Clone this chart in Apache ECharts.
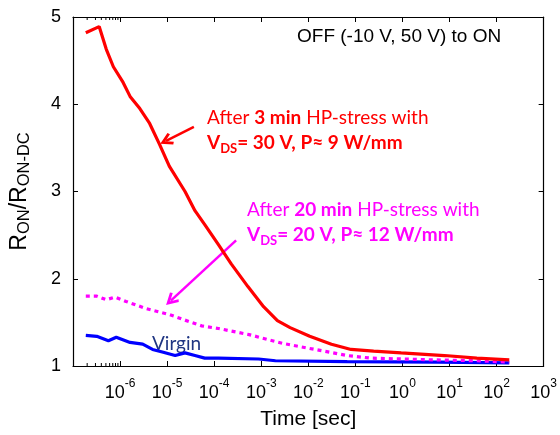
<!DOCTYPE html>
<html><head><meta charset="utf-8">
<script src="https://cdn.jsdelivr.net/npm/echarts@6/dist/echarts.min.js"></script>
<style>html,body{margin:0;padding:0;background:#fff}#c{width:560px;height:435px}</style>
</head><body><div id="c"></div>
<script>
// ---- data ----
const redTime = [1.87e-7,3.6e-7,5.1e-7,7.2e-7,1.16e-6,1.63e-6,2.63e-6,4.25e-6,6.9e-6,1.11e-5,2.4e-5,3.9e-5,6.3e-5,1.23e-4,2.3e-4,5.2e-4,1.12e-3,2.2e-3,4.1e-3,0.0107,0.031,0.081,0.244,0.94,7.8,38,186];
const redVal  = [4.82,4.89,4.63,4.43,4.25,4.09,3.95,3.78,3.54,3.29,3.0,2.78,2.62,2.39,2.17,1.91,1.68,1.52,1.44,1.34,1.25,1.19,1.17,1.15,1.12,1.09,1.07];
const magTime = [1.87e-7,3.2e-7,5.1e-7,7.9e-7,1.34e-6,3.5e-6,1.11e-5,2.9e-5,5.4e-5,1.23e-4,5.5e-4,2.8e-3,0.0137,0.067,0.21,4.8,38,186];
const magVal  = [1.80,1.80,1.76,1.79,1.74,1.66,1.59,1.51,1.46,1.43,1.36,1.26,1.19,1.12,1.09,1.07,1.06,1.045];
const bluTime = [1.87e-7,3.2e-7,5.65e-7,8.3e-7,1.63e-6,3.03e-6,4.9e-6,7.9e-6,1.48e-5,2.4e-5,3.9e-5,6.3e-5,1.23e-4,8.8e-4,2.0e-3,0.067,5.6,186];
const bluVal  = [1.35,1.34,1.29,1.33,1.27,1.25,1.19,1.16,1.12,1.15,1.12,1.09,1.09,1.08,1.06,1.05,1.045,1.035];
const minorTicks = [2e-7,3e-7,4e-7,5e-7,6e-7,7e-7,8e-7,9e-7];
const redArrow = [[3.7e-5,3.74],[9.5e-6,3.58]];
const magArrow = [[2.92e-4,2.44],[1.2e-5,1.75]];
const xMin = 1e-7, xMax = 1e3, yMin = 1, yMax = 5;

const zip = (a,b) => a.map((v,i)=>[v,b[i]]);
const chev = 'path://M5,0 L10,8 L8.3,9.2 L5,4 L1.7,9.2 L0,8 Z';
const supLabel = v => { const e = Math.round(Math.log10(v)); return '{b|10}{s|' + e + '}'; };
const AR = 'Liberation Sans, Arial';

const chart = echarts.init(document.getElementById('c'));
const axisLineStyle = {color:'#000', width:1.2};
chart.setOption({
  animation:false,
  grid:{left:68,right:12,top:17,bottom:65,containLabel:false},
  xAxis:[{
    type:'log', logBase:10, min:xMin, max:xMax, interval:1,
    name:'Time [sec]', nameLocation:'middle', nameGap:43,
    nameTextStyle:{fontFamily:AR, fontSize:21, color:'#000'},
    axisLine:{lineStyle:axisLineStyle}, axisTick:{inside:true,length:5,lineStyle:{color:'#000'}},
    splitLine:{show:false}, minorTick:{show:false},
    axisLabel:{showMinLabel:false, margin:12, formatter:supLabel,
      rich:{b:{fontFamily:AR,fontSize:18,color:'#000',padding:[6,0,0,0]},
            s:{fontFamily:AR,fontSize:12,color:'#000',verticalAlign:'top',padding:[0,0,8,0]}}}
  },{
    type:'log', logBase:10, min:xMin, max:xMax, interval:1, position:'top',
    axisLine:{lineStyle:axisLineStyle}, axisTick:{inside:true,length:5,lineStyle:{color:'#000'}},
    axisLabel:{show:false}, splitLine:{show:false}
  }],
  yAxis:[{
    type:'value', min:yMin, max:yMax, interval:1,
    name:'{r|R}{sub|ON}{r|/R}{sub|ON-DC}', nameLocation:'middle', nameGap:40, nameRotate:90,
    nameTextStyle:{rich:{r:{fontFamily:AR,fontSize:23,color:'#000'},
                          sub:{fontFamily:AR,fontSize:16.5,color:'#000',verticalAlign:'bottom',padding:[10,0,0,0]}}},
    axisLine:{show:true,lineStyle:axisLineStyle}, axisTick:{inside:true,length:5,lineStyle:{color:'#000'}},
    splitLine:{show:false},
    axisLabel:{fontFamily:AR,fontSize:18,color:'#000',margin:12}
  },{
    type:'value', min:yMin, max:yMax, interval:1, position:'right',
    axisLine:{show:true,lineStyle:axisLineStyle}, axisTick:{inside:true,length:5,lineStyle:{color:'#000'}},
    axisLabel:{show:false}, splitLine:{show:false}
  }],
  series:[
    {type:'line', data:zip(bluTime,bluVal), showSymbol:false, lineStyle:{color:'#0000ff',width:3.2}, z:3},
    {type:'line', data:zip(magTime,magVal), showSymbol:false, lineStyle:{color:'#ff00ff',width:3.2,type:[4,4]}, z:4,
     markLine:{silent:true, symbol:['none',chev], symbolSize:[13,13], label:{show:false},
       lineStyle:{color:'#ff00ff',width:2.5,type:'solid'},
       data:[[{coord:magArrow[0]},{coord:magArrow[1]}]]}},
    {type:'line', data:zip(redTime,redVal), showSymbol:false, lineStyle:{color:'#ff0000',width:3.2}, z:5,
     markLine:{silent:true, symbol:['none',chev], symbolSize:[13,13], label:{show:false},
       lineStyle:{color:'#ff0000',width:2.5,type:'solid'},
       data:[[{coord:redArrow[0]},{coord:redArrow[1]}]]}},
    {type:'custom', silent:true, data:minorTicks.map(t=>[t]), z:6,
     renderItem:(params, api) => {
       const p0 = api.coord([api.value(0), yMin]);
       const p1 = api.coord([api.value(0), yMax]);
       return {type:'group', children:[
         {type:'line', shape:{x1:p0[0],y1:p0[1],x2:p0[0],y2:p0[1]-3}, style:{stroke:'#000',lineWidth:1}},
         {type:'line', shape:{x1:p1[0],y1:p1[1],x2:p1[0],y2:p1[1]+3}, style:{stroke:'#000',lineWidth:1}}
       ]};
     }}
  ],
  graphic:[
    {type:'text', left:297, top:27, style:{text:'OFF (-10 V, 50 V) to ON', fontFamily:AR, fontSize:19, fill:'#000'}},
    {type:'text', left:207, top:108, style:{text:'{n|After }{b|3 min}{n| HP-stress with}\n{b|V}{bs|DS}{b|= 30 V, P≈ 9 W/mm}',
      rich:{n:{fontFamily:'Lato',fontSize:19,fill:'#ff0000',lineHeight:25},b:{fontFamily:'Lato',fontWeight:'bold',fontSize:19,fill:'#ff0000',lineHeight:25},
            bs:{fontFamily:'Lato',fontWeight:'bold',fontSize:13,fill:'#ff0000',verticalAlign:'bottom',lineHeight:25,padding:[7,0,0,0]}}}},
    {type:'text', left:247, top:200, style:{text:'{n|After }{b|20 min}{n| HP-stress with}\n{b|V}{bs|DS}{b|= 20 V, P≈ 12 W/mm}',
      rich:{n:{fontFamily:'Lato',fontSize:19,fill:'#ff00ff',lineHeight:25},b:{fontFamily:'Lato',fontWeight:'bold',fontSize:19,fill:'#ff00ff',lineHeight:25},
            bs:{fontFamily:'Lato',fontWeight:'bold',fontSize:13,fill:'#ff00ff',verticalAlign:'bottom',lineHeight:25,padding:[7,0,0,0]}}}},
    {type:'text', left:152, top:334, style:{text:'Virgin', fontFamily:'Lato', fontSize:19, fill:'#1f3582'}}
  ]
});
</script></body></html>
